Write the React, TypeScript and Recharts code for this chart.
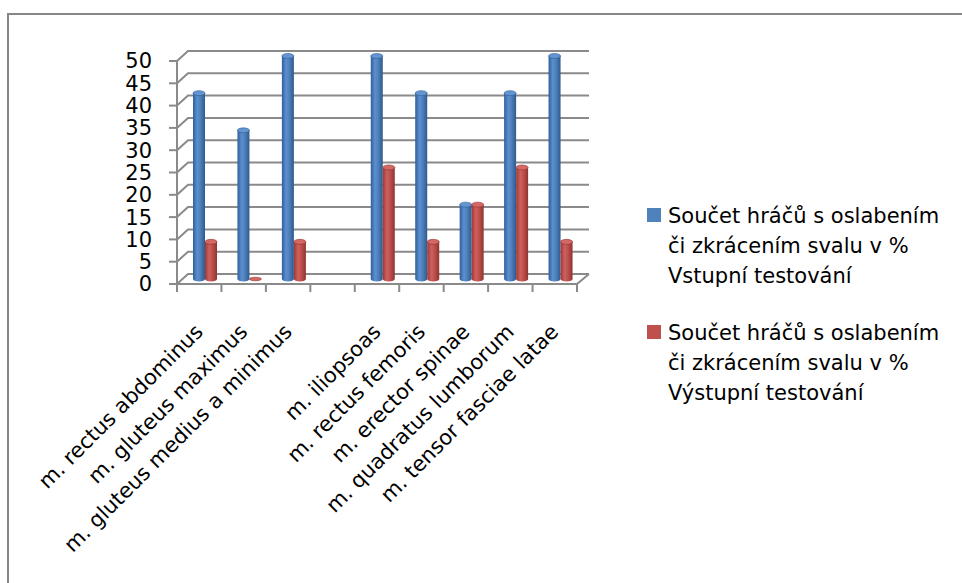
import React from 'react';
import { BarChart, Bar, XAxis, YAxis, CartesianGrid, Legend } from 'recharts';

const categories = [
  'm. rectus abdominus',
  'm. gluteus maximus',
  'm. gluteus medius a minimus',
  '',
  'm. iliopsoas',
  'm. rectus femoris',
  'm. erector spinae',
  'm. quadratus lumborum',
  'm. tensor fasciae latae',
];
const entryValues: (number | null)[] = [41.67, 33.33, 50, null, 50, 41.67, 16.67, 41.67, 50];
const exitValues: (number | null)[] = [8.33, 0, 8.33, null, 25, 8.33, 16.67, 25, 8.33];
const seriesNames = [
  'Součet hráčů s oslabením či zkrácením svalu v % Vstupní testování',
  'Součet hráčů s oslabením či zkrácením svalu v % Výstupní testování',
];
const yTicks = [0, 5, 10, 15, 20, 25, 30, 35, 40, 45, 50];

const data = categories.map((c, i) => ({ category: c, entry: entryValues[i], exit: exitValues[i] }));

const FONT = "'DejaVu Sans', sans-serif";
const GRID = '#8A8A8A';
const DX = 11;
const DY = 10;
const PLOT_BOTTOM = 284;

const GridLine = (p: any) => {
  const { x1, x2, y1 } = p;
  let d = `M${x1},${y1} L${x1 + DX},${y1 - DY} L${x2 + DX + 1},${y1 - DY}`;
  if (Math.abs(y1 - PLOT_BOTTOM) < 2) {
    d += ` M${x2},${y1} L${x2 + DX + 1},${y1 - DY}`;
  }
  return <path key={p.key} d={d} fill="none" stroke={GRID} strokeWidth={2} />;
};

const XTick = (p: any) => {
  const { x, y, payload, index } = p;
  const half = payload && typeof payload.offset === 'number' && payload.offset > 0 ? payload.offset : 22.2;
  const tx = x + 5;
  const ty = y + 49;
  return (
    <g>
      <line x1={x - half} x2={x - half} y1={y} y2={y + 8} stroke={GRID} strokeWidth={2} />
      {index === categories.length - 1 && (
        <line x1={x + half} x2={x + half} y1={y} y2={y + 8} stroke={GRID} strokeWidth={2} />
      )}
      <text x={tx} y={ty} transform={`rotate(-45 ${tx} ${ty})`} textAnchor="end" fontSize={21} fontFamily={FONT} fill="#000">
        {payload.value}
      </text>
    </g>
  );
};

const makeCylinder = (gradId: string, topFill: string, edge: string, key: string) => (p: any) => {
  const v = p.payload ? p.payload[key] : null;
  if (v === null || v === undefined) return <g />;
  const x = p.x + 6;
  const w = p.width;
  const h = Math.max(0, p.height);
  const y = p.y - 5;
  const rx = w / 2;
  const ry = 2.5;
  const cx = x + rx;
  if (h < 0.5) {
    return <ellipse cx={cx} cy={y + h} rx={rx} ry={ry * 0.7} fill={topFill} stroke={edge} strokeWidth={0.6} />;
  }
  return (
    <g>
      <path
        d={`M${x},${y} L${x},${y + h} A${rx},${ry} 0 0 0 ${x + w},${y + h} L${x + w},${y} Z`}
        fill={`url(#${gradId})`}
      />
      <ellipse cx={cx} cy={y} rx={rx} ry={ry} fill={topFill} stroke={edge} strokeWidth={0.6} />
    </g>
  );
};

const BlueCyl = makeCylinder('gBlue', '#6495D3', '#2E5A8E', 'entry');
const RedCyl = makeCylinder('gRed', '#D46865', '#8E3431', 'exit');

const LegendContent = (props: any) => {
  const payload = props.payload || [];
  return (
    <div style={{ fontFamily: FONT, fontSize: 21, lineHeight: '30px', color: '#000' }}>
      {payload.map((item: any, i: number) => (
        <div key={i} style={{ display: 'flex', alignItems: 'flex-start', marginBottom: i === 0 ? 27 : 0 }}>
          <div style={{ width: 14, height: 14, background: item.color, marginTop: 7, marginRight: 7, flex: '0 0 auto' }} />
          <div style={{ width: 285 }}>{item.value}</div>
        </div>
      ))}
    </div>
  );
};

export default function App() {
  return (
    <div style={{ position: 'absolute', left: 0, top: 0, width: 962, height: 583, overflow: 'hidden', background: '#fff' }}>
      <svg width={0} height={0} style={{ position: 'absolute' }}>
        <defs>
          <linearGradient id="gBlue" x1="0" y1="0" x2="1" y2="0">
            <stop offset="0" stopColor="#2F5F9A" />
            <stop offset="0.35" stopColor="#5C8FD0" />
            <stop offset="0.6" stopColor="#4F81BD" />
            <stop offset="1" stopColor="#2E5A8E" />
          </linearGradient>
          <linearGradient id="gRed" x1="0" y1="0" x2="1" y2="0">
            <stop offset="0" stopColor="#9A3A37" />
            <stop offset="0.35" stopColor="#D0605D" />
            <stop offset="0.6" stopColor="#C0504D" />
            <stop offset="1" stopColor="#8E3431" />
          </linearGradient>
        </defs>
      </svg>
      <div
        style={{
          position: 'absolute',
          left: 7,
          top: 13,
          width: 1000,
          height: 620,
          border: '2px solid #878787',
          boxSizing: 'border-box',
        }}
      />
      <div style={{ position: 'absolute', left: 0, top: 0 }}>
        <BarChart
          width={962}
          height={583}
          data={data}
          margin={{ top: 61, right: 385, bottom: 269, left: 117 }}
          barSize={12}
          barGap={0}
        >
          <CartesianGrid vertical={false} horizontal={(p: any) => <GridLine {...p} />} />
          <XAxis
            dataKey="category"
            interval={0}
            height={30}
            tickSize={0}
            tickMargin={0}
            tickLine={false}
            axisLine={{ stroke: GRID, strokeWidth: 2 }}
            tick={<XTick />}
          />
          <YAxis
            domain={[0, 50]}
            ticks={yTicks}
            interval={0}
            width={60}
            tickSize={8}
            tickMargin={17}
            axisLine={{ stroke: GRID, strokeWidth: 2 }}
            tickLine={{ stroke: GRID, strokeWidth: 2 }}
            tick={{ fontSize: 21, fill: '#000', fontFamily: FONT }}
          />
          <Legend
            layout="vertical"
            align="center"
            verticalAlign="middle"
            wrapperStyle={{ position: 'absolute', left: 647, top: 201, width: 310 }}
            content={<LegendContent />}
          />
          <Bar dataKey="entry" name={seriesNames[0]} fill="#4F81BD" isAnimationActive={false} shape={BlueCyl} />
          <Bar dataKey="exit" name={seriesNames[1]} fill="#C0504D" isAnimationActive={false} shape={RedCyl} />
        </BarChart>
      </div>
    </div>
  );
}
